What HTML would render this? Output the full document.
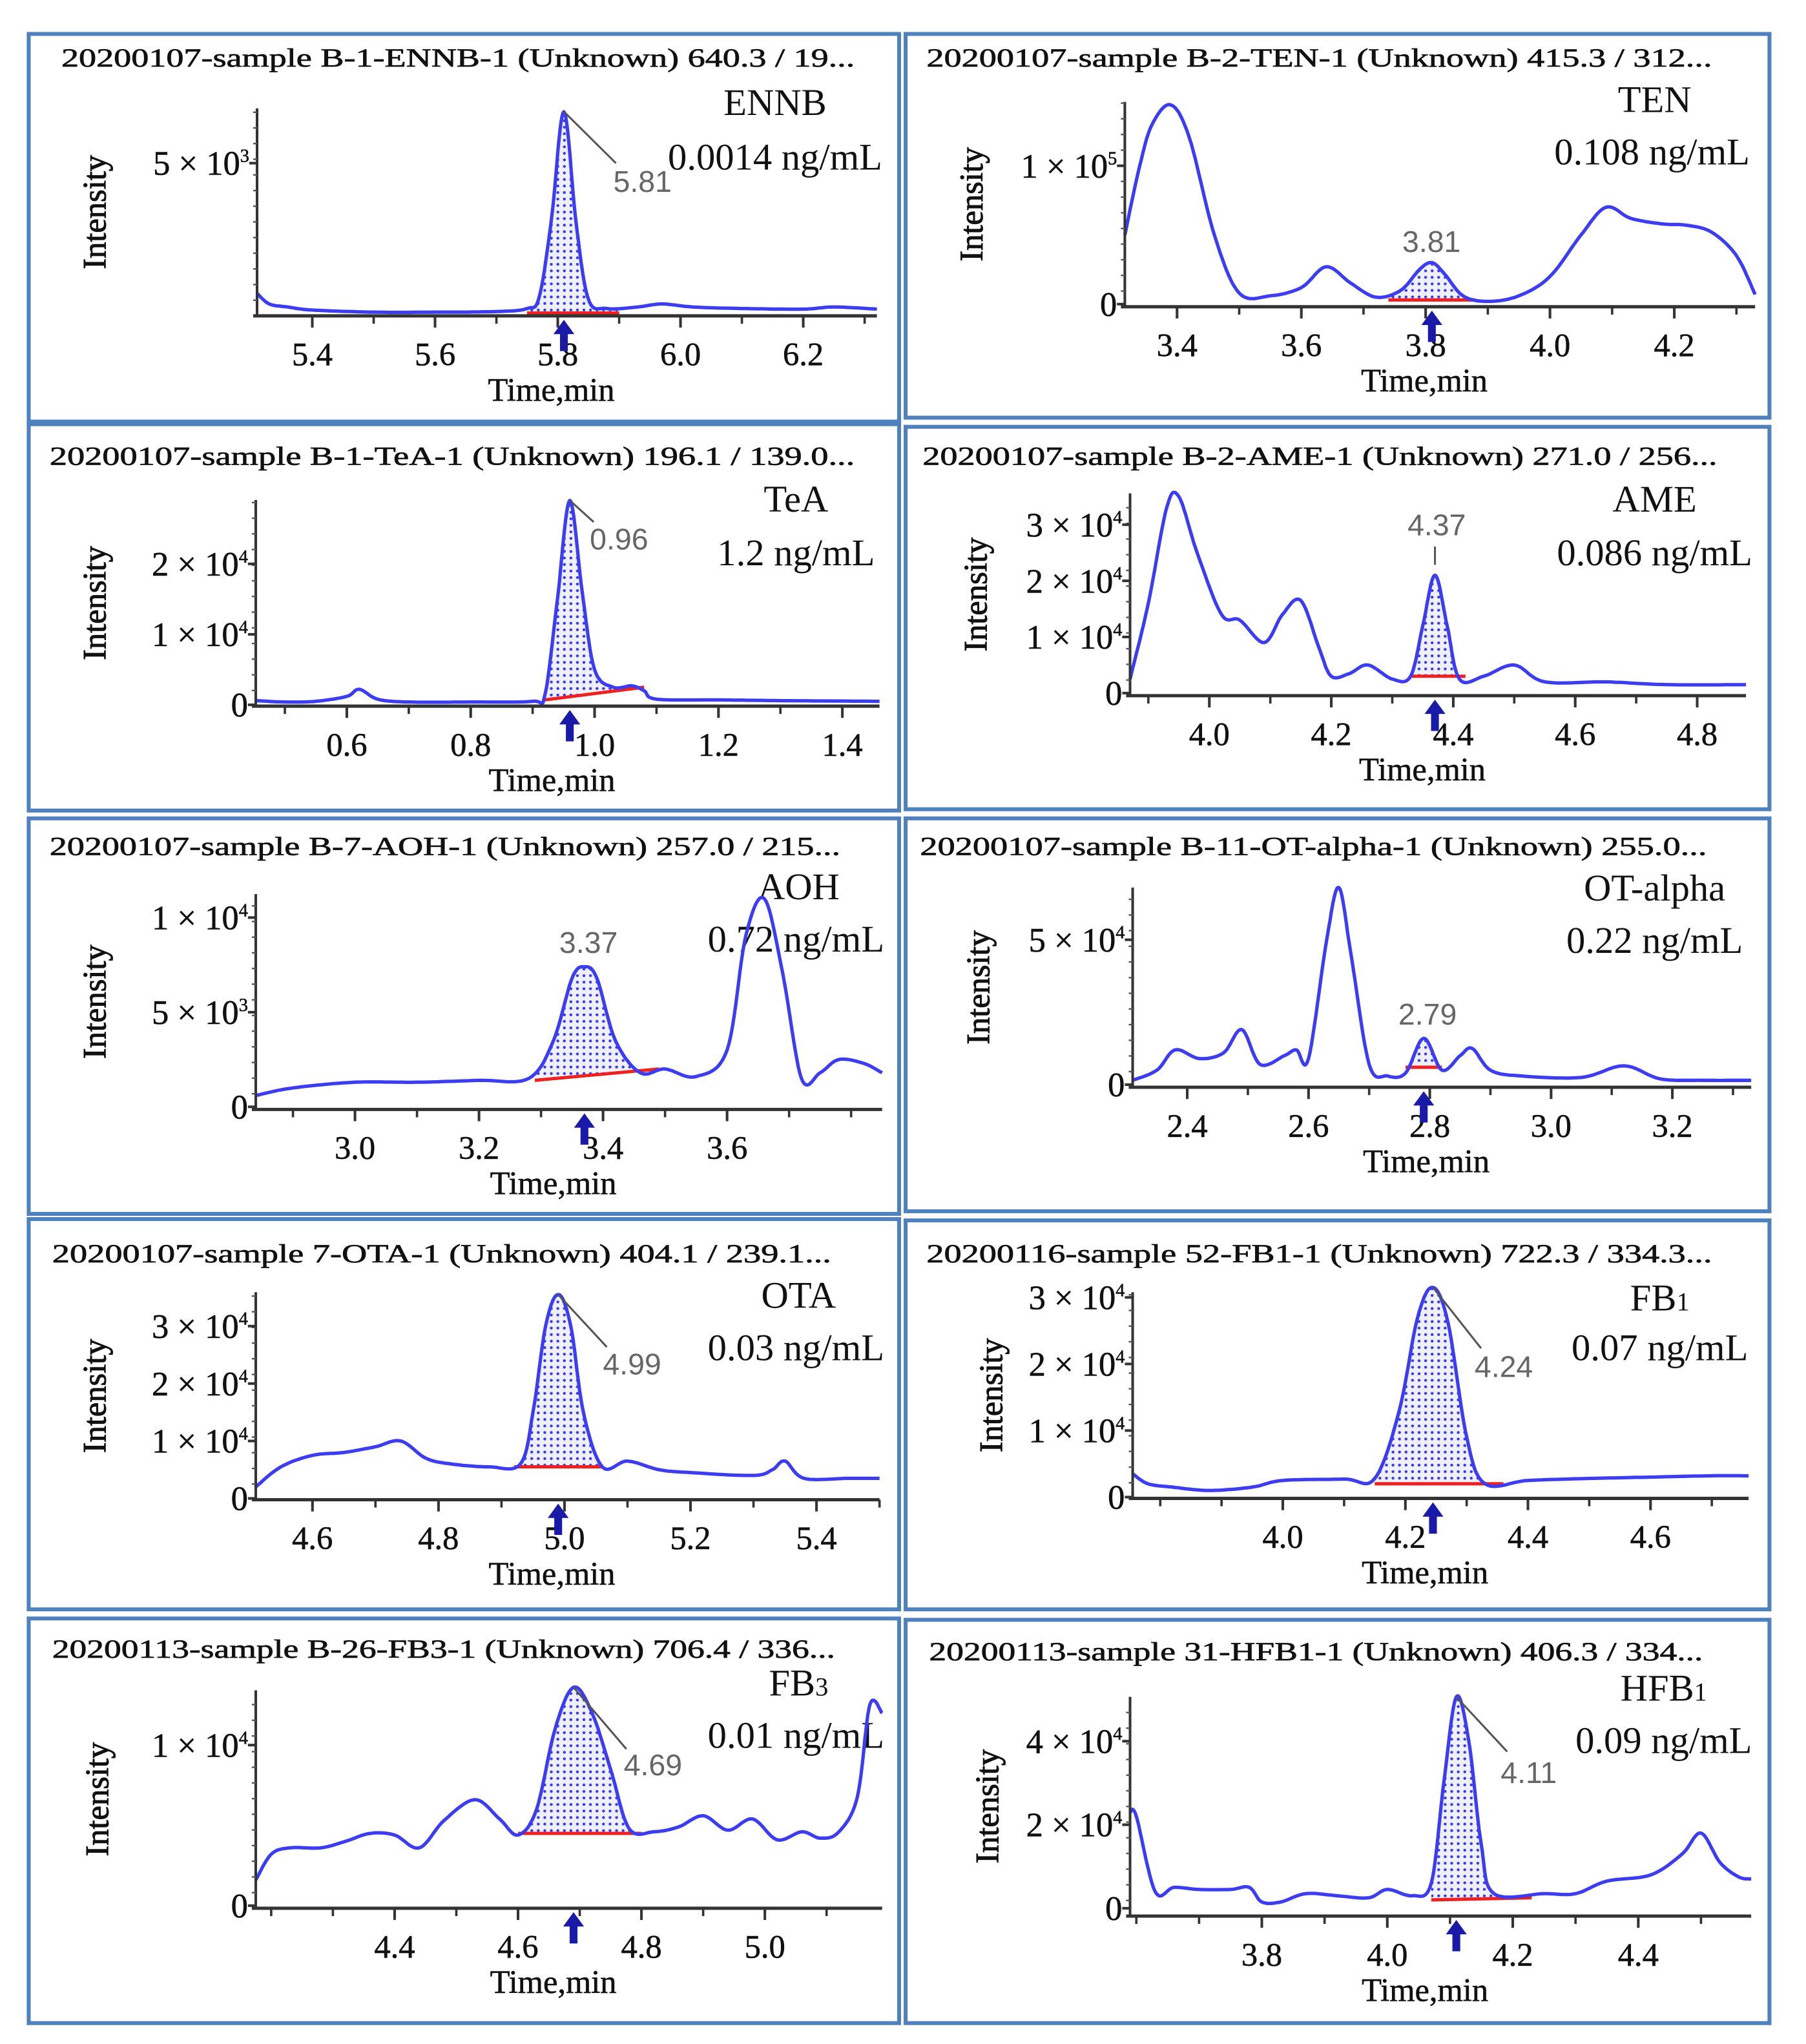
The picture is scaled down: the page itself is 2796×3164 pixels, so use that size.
<!DOCTYPE html>
<html><head><meta charset="utf-8"><style>
html,body{margin:0;padding:0;background:#fff}
svg{display:block}
text{font-family:"Liberation Serif",serif;fill:#111}
.tl{font-size:20px;stroke:#111;stroke-width:0.35}
.tk{font-size:25px;stroke:#111;stroke-width:0.3}
.yk{font-size:26px;stroke:#111;stroke-width:0.3}
.it{font-size:25px;stroke:#111;stroke-width:0.5}
.an{font-size:29px}
.pk{font-family:"Liberation Sans",sans-serif;font-size:23px;fill:#666}
</style></head><body>
<svg id="fig" width="2796" height="3164" viewBox="0 0 1384 1566" preserveAspectRatio="none" xmlns="http://www.w3.org/2000/svg">
<defs><pattern id="dots" width="5" height="5" patternUnits="userSpaceOnUse"><rect width="5" height="5" fill="#eef0ff"/><circle cx="2.5" cy="2.5" r="1.1" fill="#3a3ae0"/></pattern></defs>
<rect width="1384" height="1566" fill="#fff"/>
<g id="root"></g>
</svg>
<script>
// ---- data arrays ----
const p1Times=[5.31,5.33,5.36,5.4,5.5,5.6,5.7,5.75,5.77,5.79,5.81,5.83,5.85,5.88,5.93,5.97,6.02,6.1,6.2,6.25,6.32];
const p1Values=[700,350,250,150,80,80,100,200,600,3200,6700,3000,500,200,250,350,250,200,180,250,180];
const p2Times=[3.316,3.34,3.36,3.39,3.42,3.46,3.5,3.55,3.6,3.64,3.68,3.72,3.76,3.79,3.81,3.83,3.86,3.9,3.95,4.0,4.05,4.09,4.13,4.18,4.22,4.26,4.3,4.33];
const p2Values=[50000,100000,130000,144000,120000,50000,8000,6000,12000,27000,15000,5000,10000,25000,30000,22000,6000,2000,6000,20000,50000,70000,62000,58000,57000,52000,35000,7000];
const p3Times=[0.453,0.5,0.55,0.6,0.62,0.65,0.7,0.8,0.9,0.92,0.94,0.96,0.98,1.0,1.03,1.06,1.08,1.1,1.2,1.3,1.46];
const p3Values=[600,400,500,1200,2200,800,400,400,500,1500,15000,29000,16000,5000,2500,2700,2000,800,700,600,500];
const p4Times=[3.87,3.9,3.93,3.95,3.98,4.02,4.05,4.09,4.12,4.15,4.18,4.2,4.23,4.26,4.3,4.33,4.35,4.37,4.39,4.41,4.45,4.5,4.55,4.65,4.75,4.88];
const p4Values=[2500,16000,33000,35000,25000,14000,13000,9000,14000,16500,8000,3000,3500,5000,2500,3000,12000,21000,12000,2500,3000,5000,2000,2000,1500,1500];
const p5Times=[2.84,2.9,3.0,3.1,3.2,3.28,3.32,3.35,3.37,3.39,3.42,3.46,3.5,3.55,3.6,3.63,3.66,3.69,3.72,3.75,3.78,3.82,3.85];
const p5Values=[600,1000,1300,1300,1400,1500,3500,6800,7400,6800,3500,1800,2000,1600,3000,9000,11000,7000,1500,1800,2500,2300,1800];
const p6Times=[2.31,2.35,2.38,2.42,2.46,2.49,2.52,2.56,2.58,2.6,2.63,2.65,2.67,2.7,2.73,2.76,2.79,2.82,2.85,2.87,2.9,2.95,3.05,3.12,3.18,3.25,3.33];
const p6Values=[1500,5000,12000,9000,11000,19000,7000,10000,12000,9000,50000,68000,45000,7000,3000,4000,16000,5000,10000,12500,5000,3000,2500,6500,2000,1500,1500];
const p7Times=[4.51,4.55,4.6,4.65,4.7,4.74,4.78,4.82,4.88,4.93,4.95,4.97,4.99,5.01,5.03,5.06,5.1,5.15,5.2,5.3,5.33,5.35,5.38,5.45,5.5];
const p7Values=[2000,5500,7500,8000,9000,10000,7000,6000,5500,6000,15000,30000,35500,30000,15000,5500,6500,5000,4500,4000,5000,6500,3500,3500,3500];
const p8Times=[3.755,3.78,3.82,3.88,3.95,4.0,4.1,4.15,4.19,4.22,4.245,4.27,4.3,4.33,4.4,4.5,4.6,4.7,4.76];
const p8Values=[3500,2000,1500,1000,1500,2500,2700,2800,13000,27000,31500,26000,9000,2000,2500,2800,3000,3200,3200];
const p9Times=[4.175,4.2,4.23,4.28,4.32,4.36,4.4,4.44,4.48,4.53,4.57,4.6,4.63,4.66,4.69,4.72,4.75,4.78,4.82,4.86,4.9,4.94,4.98,5.02,5.06,5.09,5.12,5.15,5.17,5.19];
const p9Values=[1600,3200,3600,3600,4000,4500,4400,3600,5300,6600,5400,4400,6000,11000,13600,12000,8500,4800,4600,4900,5600,4700,5400,4100,4600,4200,4600,6800,12500,12000];
const p10Times=[3.59,3.6,3.63,3.66,3.7,3.75,3.78,3.8,3.83,3.87,3.92,3.97,4.0,4.04,4.07,4.09,4.11,4.13,4.15,4.17,4.25,4.3,4.35,4.42,4.47,4.5,4.53,4.56,4.58];
const p10Values=[23000,22000,4000,5000,4500,4500,5000,1500,1500,3500,3000,2500,4500,3000,6000,30000,50600,40000,15000,3500,3500,3500,6500,8000,13000,18000,11000,7500,7000];
const titles=["20200107-sample B-1-ENNB-1 (Unknown) 640.3 / 19...","20200107-sample B-2-TEN-1 (Unknown) 415.3 / 312...","20200107-sample B-1-TeA-1 (Unknown) 196.1 / 139.0...","20200107-sample B-2-AME-1 (Unknown) 271.0 / 256...","20200107-sample B-7-AOH-1 (Unknown) 257.0 / 215...","20200107-sample B-11-OT-alpha-1 (Unknown) 255.0...","20200107-sample 7-OTA-1 (Unknown) 404.1 / 239.1...","20200116-sample 52-FB1-1 (Unknown) 722.3 / 334.3...","20200113-sample B-26-FB3-1 (Unknown) 706.4 / 336...","20200113-sample 31-HFB1-1 (Unknown) 406.3 / 334..."];
const analytes=["ENNB","TEN","TeA","AME","AOH","OT-alpha","OTA","FB1","FB3","HFB1"];
const concentrations=["0.0014 ng/mL","0.108 ng/mL","1.2 ng/mL","0.086 ng/mL","0.72 ng/mL","0.22 ng/mL","0.03 ng/mL","0.07 ng/mL","0.01 ng/mL","0.09 ng/mL"];
const peakTimes=[5.81,3.81,0.96,4.37,3.37,2.79,4.99,4.245,4.69,4.11];
const peakLabels=["5.81","3.81","0.96","4.37","3.37","2.79","4.99","4.24","4.69","4.11"];
const integStart=[5.75,3.74,0.92,4.33,3.29,2.76,4.92,4.15,4.6,4.07];
const integEnd=[5.90,3.88,1.08,4.42,3.49,2.82,5.06,4.36,4.8,4.23];
const baseStart=[50,3000,700,3000,1400,6000,5500,2000,4500,2000];
const baseEnd=[50,3000,2500,3000,2000,6000,5500,2000,4500,2500];
const yTickVals=[[5000],[0,100000],[0,10000,20000],[0,10000,20000,30000],[0,5000,10000],[0,50000],[0,10000,20000,30000],[0,10000,20000,30000],[0,10000],[0,20000,40000]];
const yTickMant=[["5"],["",'1'],["","1","2"],["","1","2","3"],["","5","1"],["","5"],["","1","2","3"],["","1","2","3"],["","1"],["","2","4"]];
const yTickExp=[["3"],["","5"],["","4","4"],["","4","4","4"],["","3","4"],["","4"],["","4","4","4"],["","4","4","4"],["","4"],["","4","4"]];
const xTickMajor=[[5.4,5.6,5.8,6.0,6.2],[3.4,3.6,3.8,4.0,4.2],[0.6,0.8,1.0,1.2,1.4],[4.0,4.2,4.4,4.6,4.8],[3.0,3.2,3.4,3.6],[2.4,2.6,2.8,3.0,3.2],[4.6,4.8,5.0,5.2,5.4],[4.0,4.2,4.4,4.6],[4.4,4.6,4.8,5.0],[3.8,4.0,4.2,4.4]];
const xTickText=[["5.4","5.6","5.8","6.0","6.2"],["3.4","3.6","3.8","4.0","4.2"],["0.6","0.8","1.0","1.2","1.4"],["4.0","4.2","4.4","4.6","4.8"],["3.0","3.2","3.4","3.6"],["2.4","2.6","2.8","3.0","3.2"],["4.6","4.8","5.0","5.2","5.4"],["4.0","4.2","4.4","4.6"],["4.4","4.6","4.8","5.0"],["3.8","4.0","4.2","4.4"]];
const seriesT=[p1Times,p2Times,p3Times,p4Times,p5Times,p6Times,p7Times,p8Times,p9Times,p10Times];
const seriesV=[p1Values,p2Values,p3Values,p4Values,p5Values,p6Values,p7Values,p8Values,p9Values,p10Values];

// ---- layout (pixel geometry, not data) ----
const L=[
 {box:[22,26,667,297],tx:[47,655],ty:51,ax:197,ax1:672,tDom:[5.31,6.32],axY:242,yTop:83,y0:241,yr:[5000,125],an:[594,88],cn:[594,130],iX:73,lbl:[470,147,'start'],lead:[472,125],anB:false},
 {box:[694,26,662,294],tx:[710,1312],ty:51,ax:862,ax1:1345,tDom:[3.316,4.33],axY:235,yTop:78,y0:233,yr:[100000,127],an:[1268,86],cn:[1266,126],iX:745,lbl:[1097,193,'middle'],lead:null},
 {box:[22,325,667,296],tx:[38,655],ty:356,ax:196,ax1:674,tDom:[0.453,1.46],axY:541,yTop:383,y0:540,yr:[10000,486],an:[610,392],cn:[610,433],iX:73,lbl:[452,421,'start'],lead:[455,400]},
 {box:[694,327,662,293],tx:[707,1316],ty:356,ax:866,ax1:1338,tDom:[3.87,4.88],axY:533,yTop:378,y0:531,yr:[10000,488],an:[1268,392],cn:[1268,433],iX:748,lbl:[1101,410,'middle'],lead:'v'},
 {box:[22,627,667,303],tx:[38,644],ty:655,ax:196,ax1:676,tDom:[2.84,3.85],axY:850,yTop:685,y0:848,yr:[10000,703],an:[612,689],cn:[610,729],iX:73,lbl:[451,730,'middle'],lead:null},
 {box:[694,627,662,301],tx:[705,1308],ty:655,ax:868,ax1:1342,tDom:[2.31,3.33],axY:833,yTop:680,y0:831,yr:[50000,720],an:[1268,690],cn:[1268,730],iX:750,lbl:[1094,785,'middle'],lead:null,anS:25},
 {box:[22,934,667,299],tx:[40,637],ty:967,ax:196,ax1:674,tDom:[4.51,5.5],axY:1149,yTop:990,y0:1148,yr:[10000,1104],an:[612,1002],cn:[610,1042],iX:73,lbl:[462,1053,'start'],lead:[465,1032]},
 {box:[694,935,662,298],tx:[710,1312],ty:967,ax:868,ax1:1340,tDom:[3.755,4.76],axY:1148,yTop:990,y0:1147,yr:[10000,1096],an:[1272,1004],cn:[1272,1042],iX:760,lbl:[1130,1055,'start'],lead:[1135,1033]},
 {box:[22,1240,667,310],tx:[40,640],ty:1270,ax:196,ax1:676,tDom:[4.175,5.19],axY:1462,yTop:1295,y0:1460,yr:[10000,1337],an:[612,1299],cn:[610,1339],iX:75,lbl:[478,1360,'start'],lead:[480,1340]},
 {box:[694,1241,662,309],tx:[712,1305],ty:1272,ax:866,ax1:1342,tDom:[3.59,4.58],axY:1468,yTop:1300,y0:1462,yr:[20000,1398],an:[1275,1303],cn:[1275,1343],iX:757,lbl:[1150,1366,'start'],lead:[1155,1342]}
];
const NS="http://www.w3.org/2000/svg";
const root=document.getElementById('root');
function mk(tag,attrs,parent,txt){const e=document.createElementNS(NS,tag);for(const k in attrs)e.setAttribute(k,attrs[k]);if(txt!==undefined)e.textContent=txt;parent.appendChild(e);return e;}
function crSample(pts){const out=[];for(let i=0;i<pts.length-1;i++){const p0=pts[Math.max(0,i-1)],p1=pts[i],p2=pts[i+1],p3=pts[Math.min(pts.length-1,i+2)];for(let s=0;s<12;s++){const t=s/12,t2=t*t,t3=t2*t;const f=(a,b,c,d)=>0.5*((2*b)+(-a+c)*t+(2*a-5*b+4*c-d)*t2+(-a+3*b-3*c+d)*t3);out.push([f(p0[0],p1[0],p2[0],p3[0]),f(p0[1],p1[1],p2[1],p3[1])]);}}out.push(pts[pts.length-1]);return out;}

for(let i=0;i<10;i++){
 const c=L[i];
 const g=mk('g',{},root);
 
 
 const xs=t=>c.ax+(t-c.tDom[0])/(c.tDom[1]-c.tDom[0])*(c.ax1-c.ax);
 const ys=v=>c.y0+(v/c.yr[0])*(c.yr[1]-c.y0);
 const bx=mk('rect',{x:c.box[0],y:c.box[1],width:c.box[2],height:c.box[3],fill:'#fff',stroke:'#4f81bd','stroke-width':3},g);
 
 
 const tt=mk('text',{x:c.tx[0],y:c.ty,class:'tl',textLength:c.tx[1]-c.tx[0],lengthAdjust:'spacingAndGlyphs'},g,titles[i]);
 
 
 const an=mk('text',{x:c.an[0],y:c.an[1],class:'an','text-anchor':'middle','font-size':c.anS||29},g);
 
 
 const m=analytes[i].match(/^(.*?)(\d)$/);
 if(m&&analytes[i]!=='OT-alpha'){mk('tspan',{},an,m[1]);mk('tspan',{'font-size':20},an,m[2]);}else an.textContent=analytes[i];
 const cn=mk('text',{x:c.cn[0],y:c.cn[1],class:'an','text-anchor':'middle'},g,concentrations[i]);
 
 
 const pts=seriesT[i].map((t,k)=>[xs(t),ys(seriesV[i][k])]);
 const smp=crSample(pts);
 const a=integStart[i],b=integEnd[i];
 const xa=xs(a),xb=xs(b),ya=ys(baseStart[i]),yb=ys(baseEnd[i]);
 const inside=smp.filter(p=>p[0]>=xa&&p[0]<=xb);
 const poly=[[xa,ya]].concat(inside).concat([[xb,yb]]);
 const fl=mk('polygon',{points:poly.map(p=>p[0].toFixed(1)+','+p[1].toFixed(1)).join(' '),fill:'url(#dots)',stroke:'none'},g);
 
 
 const bl=mk('line',{x1:xa,y1:ya,x2:xb,y2:yb,stroke:'#ee2020','stroke-width':2.5},g);
 
 
 const tr=mk('polyline',{points:smp.map(p=>p[0].toFixed(1)+','+p[1].toFixed(1)).join(' '),fill:'none',stroke:'#3c3cf0','stroke-width':2.6,'stroke-linejoin':'round'},g);
 
 
 const ya1=mk('line',{x1:c.ax,y1:c.yTop,x2:c.ax,y2:c.axY,stroke:'#333','stroke-width':2},g);
 
 
 const xa1=mk('line',{x1:c.ax-3,y1:c.axY,x2:c.ax1,y2:c.axY,stroke:'#333','stroke-width':2.5},g);
 
 
 for(let yy=c.axY-12;yy>c.yTop;yy-=12){mk('line',{x1:c.ax-3,y1:yy,x2:c.ax,y2:yy,stroke:'#555','stroke-width':1.2},g);}
 yTickVals[i].forEach((v,k)=>{const py=ys(v);mk('line',{x1:c.ax-6,y1:py,x2:c.ax,y2:py,stroke:'#333','stroke-width':2},g);
  const t=mk('text',{x:c.ax-6,y:py+9,class:'yk','text-anchor':'end'},g);
  
  
  if(v===0)t.textContent='0';else{mk('tspan',{},t,yTickMant[i][k]+' \u00d7 10');mk('tspan',{'font-size':14,dy:-10},t,yTickExp[i][k]);}});
 const step=0.1;let t0=Math.ceil(c.tDom[0]/step-1e-6)*step;
 for(let t=t0;t<=c.tDom[1]+1e-6;t+=step){const px=xs(t);mk('line',{x1:px,y1:c.axY,x2:px,y2:c.axY+6,stroke:'#333','stroke-width':1.8},g);}
 xTickMajor[i].forEach((t,k)=>{const px=xs(t);mk('line',{x1:px,y1:c.axY,x2:px,y2:c.axY+9,stroke:'#333','stroke-width':2},g);
  const tl=mk('text',{x:px,y:c.axY+38,class:'tk','text-anchor':'middle'},g,xTickText[i][k]);
  
  });
 const xt=mk('text',{x:(c.ax+c.ax1)/2-12,y:c.axY+65,class:'tk','text-anchor':'middle'},g,'Time,min');
 
 
 const ym=(c.yTop+c.axY)/2;
 const yt=mk('text',{x:c.iX+8,y:ym,class:'it','text-anchor':'middle',transform:'rotate(-90 '+(c.iX+8)+' '+ym+')'},g,'Intensity');
 
 
 const axp=xs(peakTimes[i]),ay=c.axY+3;
 const ar=mk('path',{d:`M${axp},${ay} L${axp-8},${ay+11} L${axp-3},${ay+11} L${axp-3},${ay+24} L${axp+3},${ay+24} L${axp+3},${ay+11} L${axp+8},${ay+11} Z`,fill:'#1a1aa8'},g);
 
 
 let pv=0;seriesT[i].forEach((t,k)=>{if(Math.abs(t-peakTimes[i])<0.006)pv=seriesV[i][k];});
 const ppx=xs(peakTimes[i]),ppy=ys(pv);
 if(Array.isArray(c.lead)){const ld=mk('line',{x1:ppx,y1:ppy,x2:c.lead[0],y2:c.lead[1],stroke:'#555','stroke-width':1.5},g);
  
  }
 else if(c.lead==='v'){mk('line',{x1:ppx,y1:ppy-8,x2:ppx,y2:ppy-22,stroke:'#555','stroke-width':1.5},g);}
 const pl=mk('text',{x:c.lbl[0],y:c.lbl[1],class:'pk','text-anchor':c.lbl[2]},g,peakLabels[i]);
 
 
}
</script>
</body></html>
